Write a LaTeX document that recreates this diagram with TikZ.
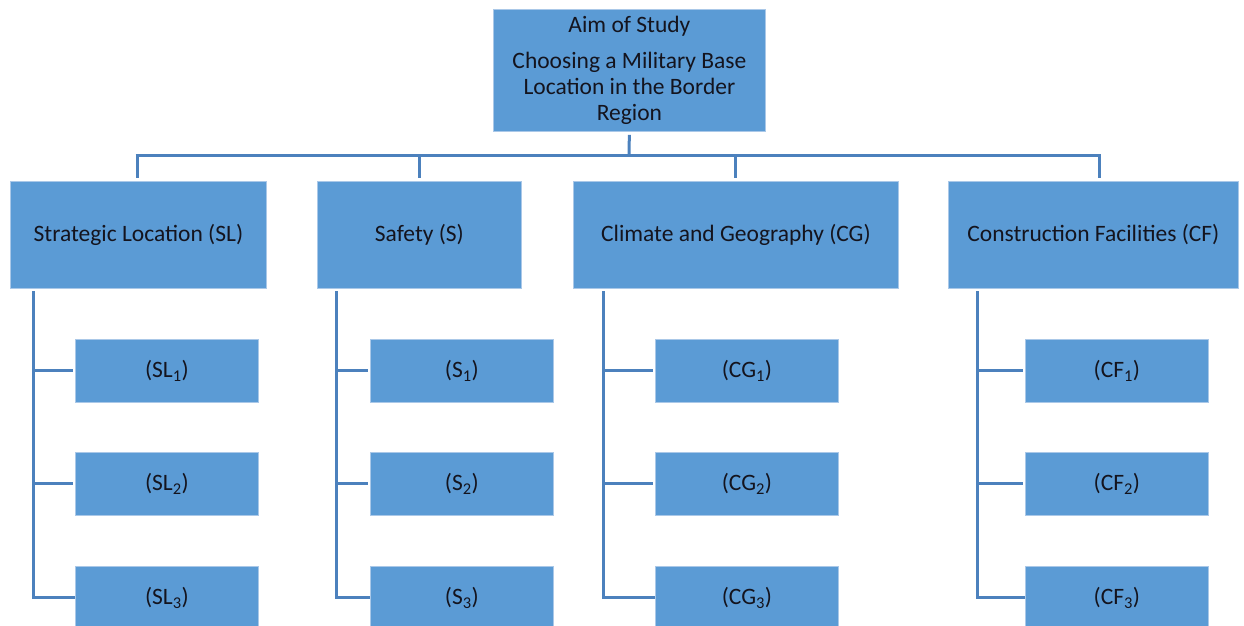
\documentclass[tikz,border=0pt]{standalone}
\usepackage{fontspec}
\setmainfont{Carlito}
\begin{document}
\begin{tikzpicture}[x=1pt,y=-1pt,
  box/.style={draw={rgb,255:red,170;green,200;blue,232},line width=0.8pt,fill={rgb,255:red,91;green,155;blue,213},
    anchor=north west,inner sep=0pt,font=\fontsize{23.5}{26}\selectfont,text={rgb,255:red,20;green,20;blue,30}},
  conn/.style={draw={rgb,255:red,76;green,129;blue,189},line width=3pt}]
\useasboundingbox (0,0) rectangle (1244,625);
% top
\node[box,minimum width=272pt,minimum height=122pt,align=center] (top) at (493,9)
 {Aim of Study\\[10pt]Choosing a Military Base\\Location in the Border\\Region};
% level 1
\node[box,minimum width=256pt,minimum height=107pt] (sl) at (10,181) {Strategic Location (SL)};
\node[box,minimum width=204pt,minimum height=107pt] (s) at (317,181) {Safety (S)};
\node[box,minimum width=325pt,minimum height=107pt] (cg) at (573,181) {Climate and Geography (CG)};
\node[box,minimum width=290pt,minimum height=107pt] (cf) at (948,181) {Construction Facilities (CF)};
% leaves
\foreach \n/\x/\lab in {sl/75/SL,s/370/S,cg/655/CG,cf/1025/CF}{
  \node[box,minimum width=183pt,minimum height=63pt] (\n1) at (\x,339) {(\lab\textsubscript{1})};
  \node[box,minimum width=183pt,minimum height=63pt] (\n2) at (\x,452) {(\lab\textsubscript{2})};
  \node[box,minimum width=183pt,minimum height=63pt] (\n3) at (\x,566) {(\lab\textsubscript{3})};
}
% bus
\coordinate (bus) at (629,155);
\coordinate (busL) at (137,155);
\coordinate (busR) at (1099,155);
\draw[conn,shorten <=3pt] (top.south) -- (bus);
\draw[conn] ([xshift=-1.5pt]busL) -- ([xshift=1.5pt]busR);
\draw[conn,shorten >=3pt] (busL) -- (busL |- sl.north);
\draw[conn,shorten >=3pt] (bus -| 419,0) -- (419,0 |- s.north);
\draw[conn,shorten >=3pt] (bus -| 735,0) -- (735,0 |- cg.north);
\draw[conn,shorten >=3pt] (busR) -- (busR |- cf.north);
% trunks
\foreach \n/\x in {sl/33,s/336,cg/603,cf/977}{
  \coordinate (\n t) at (\x,292);
  \draw[conn,line cap=rect,shorten >=2pt] (\n t) |- (\n3.west);
  \draw[conn,shorten >=2pt] (\n t |- \n1.west) -- (\n1.west);
  \draw[conn,shorten >=2pt] (\n t |- \n2.west) -- (\n2.west);
}
\end{tikzpicture}
\end{document}
